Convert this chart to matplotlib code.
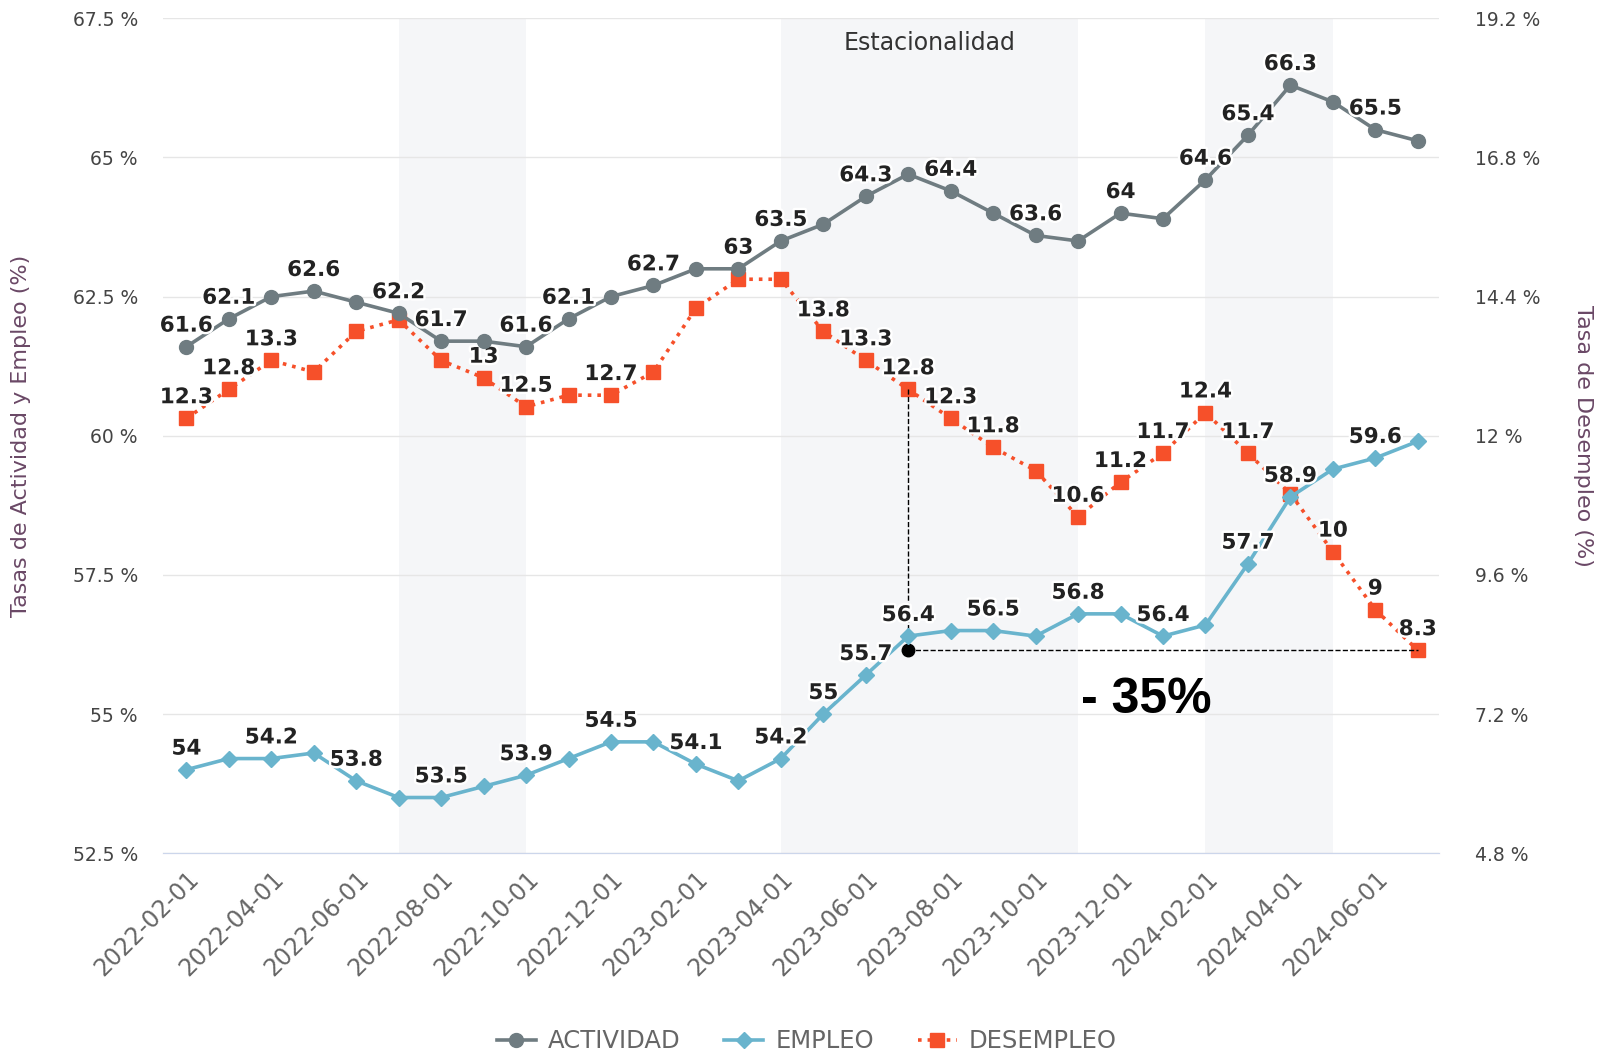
import numpy as np
import matplotlib
matplotlib.use("Agg")
import matplotlib.pyplot as plt
import matplotlib.patheffects as pe

# datos mensuales 2022-02 .. 2024-07
fechas = ["2022-02-01", "2022-03-01", "2022-04-01", "2022-05-01", "2022-06-01", "2022-07-01",
          "2022-08-01", "2022-09-01", "2022-10-01", "2022-11-01", "2022-12-01", "2023-01-01",
          "2023-02-01", "2023-03-01", "2023-04-01", "2023-05-01", "2023-06-01", "2023-07-01",
          "2023-08-01", "2023-09-01", "2023-10-01", "2023-11-01", "2023-12-01", "2024-01-01",
          "2024-02-01", "2024-03-01", "2024-04-01", "2024-05-01", "2024-06-01", "2024-07-01"]

actividad = [61.6, 62.1, 62.5, 62.6, 62.4, 62.2, 61.7, 61.7, 61.6, 62.1, 62.5, 62.7,
             63.0, 63.0, 63.5, 63.8, 64.3, 64.7, 64.4, 64.0, 63.6, 63.5, 64.0, 63.9,
             64.6, 65.4, 66.3, 66.0, 65.5, 65.3]
empleo = [54.0, 54.2, 54.2, 54.3, 53.8, 53.5, 53.5, 53.7, 53.9, 54.2, 54.5, 54.5,
          54.1, 53.8, 54.2, 55.0, 55.7, 56.4, 56.5, 56.5, 56.4, 56.8, 56.8, 56.4,
          56.6, 57.7, 58.9, 59.4, 59.6, 59.9]
desempleo = [12.3, 12.8, 13.3, 13.1, 13.8, 14.0, 13.3, 13.0, 12.5, 12.7, 12.7, 13.1,
             14.2, 14.7, 14.7, 13.8, 13.3, 12.8, 12.3, 11.8, 11.4, 10.6, 11.2, 11.7,
             12.4, 11.7, 11.0, 10.0, 9.0, 8.3]

# puntos con etiqueta visible
etq_act = [0, 1, 3, 5, 6, 8, 9, 11, 13, 14, 16, 18, 20, 22, 24, 25, 26, 28]
etq_emp = [0, 2, 4, 6, 8, 10, 12, 14, 15, 16, 17, 19, 21, 23, 25, 26, 28]
etq_des = [0, 1, 2, 7, 8, 10, 15, 16, 17, 18, 19, 21, 22, 23, 24, 25, 27, 28, 29]

# bandas de estacionalidad (indices de mes)
bandas = [(5, 8), (14, 21), (24, 27)]

ticks_izq = [52.5, 55, 57.5, 60, 62.5, 65, 67.5]
ticks_der = [4.8, 7.2, 9.6, 12, 14.4, 16.8, 19.2]

C_ACT = "#6f7c81"
C_EMP = "#69b4cd"
C_DES = "#f6502a"

x = np.arange(len(fechas))

fig = plt.figure(figsize=(15.98, 10.55), dpi=100)
ax = fig.add_axes([0.102, 0.1913, 0.7985, 0.7913])
ax2 = ax.twinx()
ax.set_zorder(ax2.get_zorder() + 1)
ax.patch.set_visible(False)

for a, b in bandas:
    ax2.axvspan(a, b, color="#f5f6f8", zorder=0, lw=0)
ax2.text((bandas[1][0] + bandas[1][1]) / 2, 18.78, "Estacionalidad", ha="center", va="center",
         fontsize=17, color="#333333")

ax.set_xlim(-0.55, 29.5)
ax.set_ylim(52.5, 67.5)
ax2.set_ylim(4.8, 19.2)

ax2.set_yticks(ticks_der)
ax2.set_yticklabels([f"{t:g} %" for t in ticks_der])
ax.set_yticks(ticks_izq)
ax.set_yticklabels([f"{t:g} %" for t in ticks_izq])
ax2.yaxis.grid(True, color="#e6e6e6", lw=1)
ax2.set_axisbelow(True)

halo = [pe.withStroke(linewidth=3.5, foreground="white")]

def etiquetas(eje, valores, indices):
    for i in indices:
        eje.annotate(f"{valores[i]:g}", (x[i], valores[i]), xytext=(0, 8), textcoords="offset points",
                     ha="center", va="bottom", fontsize=15.5, fontweight="bold", color="#222222",
                     path_effects=halo, zorder=10)

l3, = ax2.plot(x, desempleo, ls=":", lw=2.6, color=C_DES, marker="s", ms=10, zorder=3, label="DESEMPLEO")
l1, = ax.plot(x, actividad, ls="-", lw=2.6, color=C_ACT, marker="o", ms=10, zorder=3, label="ACTIVIDAD")
l2, = ax.plot(x, empleo, ls="-", lw=2.6, color=C_EMP, marker="D", ms=8, zorder=3, label="EMPLEO")

etiquetas(ax, actividad, etq_act)
etiquetas(ax, empleo, etq_emp)
etiquetas(ax2, desempleo, etq_des)

# anotacion caida desempleo
i0, i1 = 17, 29
ax2.plot([x[i0], x[i0]], [desempleo[i0], desempleo[i1]], ls="--", lw=1, color="black", zorder=4)
ax2.plot([x[i0], x[i1]], [desempleo[i1], desempleo[i1]], ls="--", lw=1, color="black", zorder=4)
ax2.plot(x[i0], desempleo[i1], "o", color="black", ms=9, zorder=5)
caida = (desempleo[i1] - desempleo[i0]) / desempleo[i0] * 100
ax2.text(22.6, 7.45, f"- {abs(caida):.0f}%", ha="center", va="center", fontsize=36,
         fontweight="bold", family="Liberation Sans", color="black", zorder=6)

ax.set_xticks(x[::2])
ax.set_xticklabels(fechas[::2], rotation=45, ha="right", rotation_mode="anchor", fontsize=17,
                   color="#666666")
ax.tick_params(axis="x", length=0, pad=10)
ax.tick_params(axis="y", length=0, labelsize=13.5, labelcolor="#444444", pad=18)
ax2.tick_params(axis="y", length=0, labelsize=13.5, labelcolor="#444444", pad=26)

for a in (ax, ax2):
    for s in ("top", "left", "right"):
        a.spines[s].set_visible(False)
    a.spines["bottom"].set_color("#ccd6eb")

ax.set_ylabel("Tasas de Actividad y Empleo (%)", fontsize=16, color="#6a4866", labelpad=30)
ax2.set_ylabel("Tasa de Desempleo (%)", fontsize=16, color="#6a4866", rotation=270, labelpad=38)

fig.legend(handles=[l1, l2, l3], loc="center", bbox_to_anchor=(0.505, 0.013), ncol=3,
           frameon=False, fontsize=17.5, labelcolor="#666666", handlelength=1.6, columnspacing=1.8,
           handletextpad=0.5)

fig.savefig("out.png", dpi=100)
